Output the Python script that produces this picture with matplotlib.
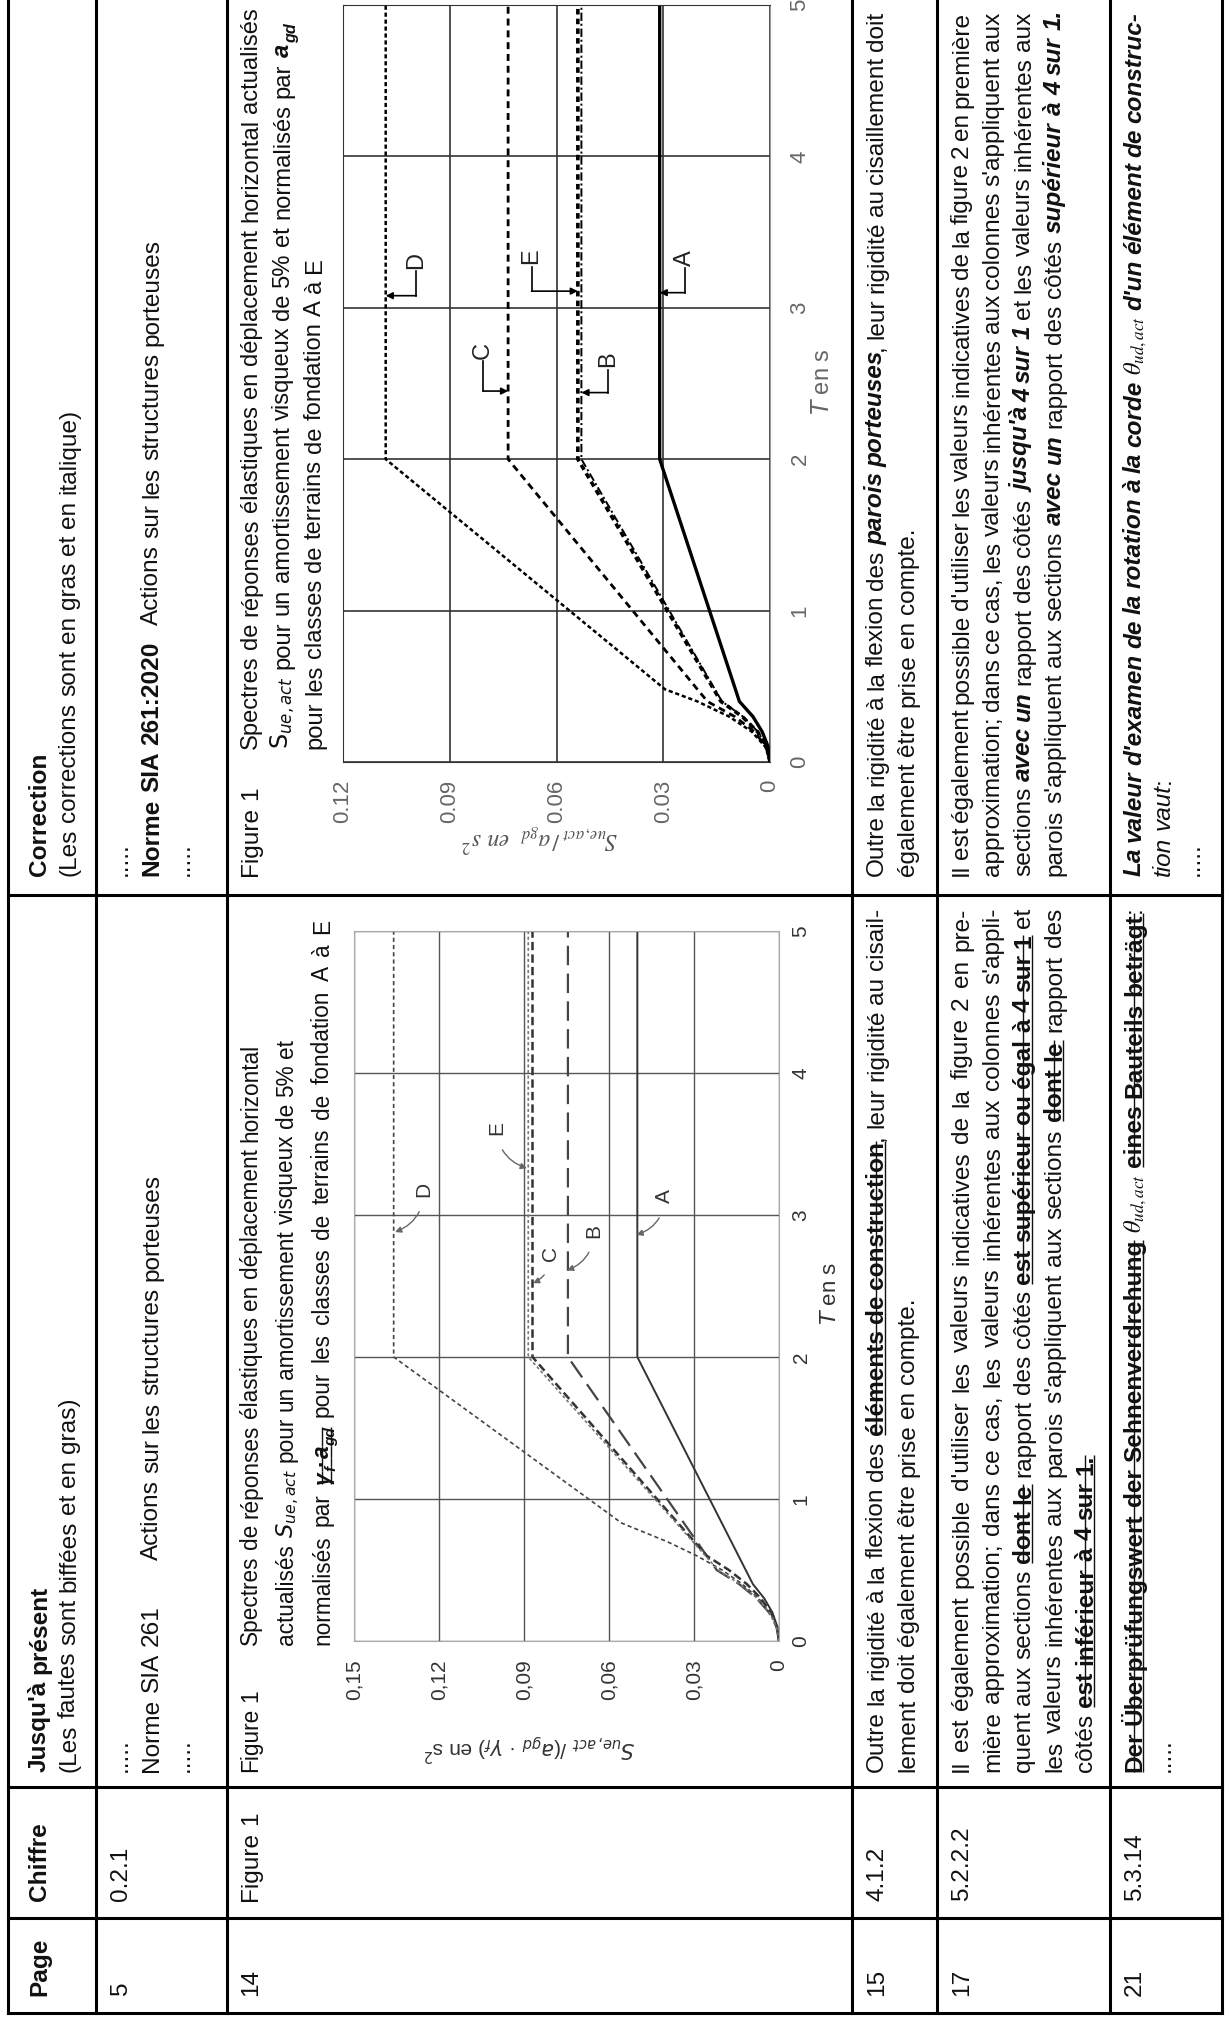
#!/usr/bin/env python3
"""Correction table SIA 261 (page turned on its side) with the two displacement spectra."""

import re

import matplotlib
matplotlib.use("Agg")
import matplotlib.pyplot as plt
from matplotlib.font_manager import FontProperties

W, H, DPI = 1230, 2022, 100
ARIAL = ["Liberation Sans", "DejaVu Sans"]
INK = "#111111"
plt.rcParams["lines.scale_dashes"] = False
plt.rcParams["mathtext.fontset"] = "dejavusans"

# ---- spectra: T in s, S in s^2 ----
T_TICKS = [0, 1, 2, 3, 4, 5]

OLD_S_TICKS = [0.15, 0.12, 0.09, 0.06, 0.03, 0]
OLD_S_LABELS = ["0,15", "0,12", "0,09", "0,06", "0,03", "0"]
OLD_A_T = [0, 0.1, 0.2, 0.3, 0.4, 2.0, 5.0]
OLD_A_S = [0, 0.0006, 0.0023, 0.0052, 0.0092, 0.050, 0.050]
OLD_B_T = [0, 0.1, 0.2, 0.3, 0.4, 0.5, 2.0, 5.0]
OLD_B_S = [0, 0.0009, 0.0035, 0.0079, 0.0140, 0.0220, 0.0745, 0.0745]
OLD_C_T = [0, 0.1, 0.2, 0.3, 0.4, 0.5, 0.6, 2.0, 5.0]
OLD_C_S = [0, 0.0007, 0.0028, 0.0064, 0.0113, 0.0177, 0.0255, 0.0870, 0.0870]
OLD_D_T = [0, 0.1, 0.2, 0.3, 0.4, 0.5, 0.6, 0.7, 0.83, 2.0, 5.0]
OLD_D_S = [0, 0.0008, 0.0032, 0.0072, 0.0129, 0.0201, 0.0290, 0.0395, 0.0555, 0.136, 0.136]
OLD_E_T = [0, 0.1, 0.2, 0.3, 0.4, 0.5, 2.0, 5.0]
OLD_E_S = [0, 0.0009, 0.0034, 0.0077, 0.0138, 0.0215, 0.0885, 0.0885]

OLD_NAMES = ["A", "B", "C", "D", "E"]
OLD_TEXT_AT = [(0.0403, 3.13), (0.0655, 2.89), (0.0808, 2.73), (0.1254, 3.18), (0.0996, 3.61)]
OLD_TIP_AT = [(0.0503, 2.86), (0.0748, 2.61), (0.0868, 2.52), (0.1355, 2.88), (0.0890, 3.33)]
OLD_BEND = [-0.35, -0.35, -0.35, -0.35, 0.35]

NEW_S_TICKS = [0.12, 0.09, 0.06, 0.03, 0]
NEW_S_LABELS = ["0.12", "0.09", "0.06", "0.03", "0"]
NEW_A_T = [0, 0.1, 0.2, 0.3, 0.4, 2.0, 5.0]
NEW_A_S = [0, 0.0005, 0.0022, 0.0048, 0.0086, 0.031, 0.031]
NEW_B_T = [0, 0.1, 0.2, 0.3, 0.4, 2.0, 5.0]
NEW_B_S = [0, 0.0008, 0.0034, 0.0076, 0.0135, 0.053, 0.053]
NEW_C_T = [0, 0.1, 0.2, 0.3, 0.4, 2.0, 5.0]
NEW_C_S = [0, 0.0011, 0.0044, 0.0099, 0.0176, 0.0736, 0.0736]
NEW_D_T = [0, 0.1, 0.2, 0.3, 0.4, 0.48, 2.0, 5.0]
NEW_D_S = [0, 0.0013, 0.0051, 0.0115, 0.0204, 0.0295, 0.108, 0.108]
NEW_E_T = [0, 0.1, 0.2, 0.3, 0.4, 2.0, 5.0]
NEW_E_S = [0, 0.0009, 0.0035, 0.0078, 0.0138, 0.054, 0.054]

NEW_NAMES = ["A", "B", "C", "D", "E"]
NEW_TEXT_AT = [(0.0239, 3.33), (0.0455, 2.66), (0.0806, 2.72), (0.0994, 3.31), (0.0670, 3.34)]
NEW_ELBOW_T = [3.10, 2.44, 2.45, 3.08, 3.11]
NEW_TIP_S = [0.031, 0.053, 0.0736, 0.108, 0.054]

# ---- table geometry in image pixels (x = across the rows, y = along them) ----
ROW_LINES = [8, 96, 227, 852, 937, 1110, 1222]
COL_LINES = [2013, 1918, 1787, 895]
PAGE_X, CHIFFRE_X, OLD_X, NEW_X = 1996, 1901, 1772, 876
OLD_WIDTH, NEW_WIDTH = 864, 864
CAP_OLD_X, CAP_NEW_X = 1645, 749

fig = plt.figure(figsize=(W / DPI, H / DPI), dpi=DPI)
base = fig.add_axes([0, 0, 1, 1])
base.set_xlim(0, W)
base.set_ylim(H, 0)
base.axis("off")
renderer = fig.canvas.get_renderer()


def advance(text, fp, math=False):
    if math:
        return renderer.get_text_width_height_descent(text, fp, ismath=True)[0]
    bar = renderer.get_text_width_height_descent("|", fp, ismath=False)[0]
    return renderer.get_text_width_height_descent(text + "|", fp, ismath=False)[0] - bar


def fit(text, target, family=ARIAL, weight="normal"):
    fp = FontProperties(family=family, size=10, weight=weight)
    return 10 * target / advance(text, fp)


def B(s): return (s, {"weight": "bold"})
def I(s): return (s, {"style": "italic"})
def BI(s): return (s, {"weight": "bold", "style": "italic"})
def X(s, **kw): return (s, dict({"weight": "bold", "strike": True}, **kw))
def M(s, fam="stix"): return (s, {"math": fam})


def draw_line(x, y, segs, size, width=None, family=ARIAL, color=INK):
    """One text line reading bottom-to-top; x is the baseline, y where it starts."""
    items = []
    for seg in segs:
        text, opts = (seg, {}) if isinstance(seg, str) else seg
        fp = FontProperties(family=family, size=size * (0.68 if opts.get("sub") else 1.0),
                            weight=opts.get("weight", "normal"), style=opts.get("style", "normal"))
        if "math" in opts:
            fp.set_math_fontfamily(opts["math"])
            toks = [text]
        else:
            toks = [t for t in re.split(r"( )", text) if t]
        items.append((toks, opts, fp))
    natural, spaces = 0.0, 0
    for toks, opts, fp in items:
        for t in toks:
            natural += advance(t, fp, "math" in opts)
            spaces += t == " "
    extra = (width - natural) / spaces if width and spaces else 0.0
    px = size * DPI / 72
    for toks, opts, fp in items:
        start = end = y
        dx = 0.28 * px if opts.get("sub") else 0
        for t in toks:
            a = advance(t, fp, "math" in opts)
            if t == " ":
                y -= a + extra
                continue
            base.text(x + dx, y, t, fontproperties=fp, rotation=90, rotation_mode="anchor",
                      ha="left", va="baseline", color=color)
            y -= a
            end = y
        if opts.get("strike"):
            for off in (-0.30 * px, 0.09 * px):
                base.plot([x + off, x + off], [start, end], color=color, lw=1.0, solid_capstyle="butt")
    return y


def img_axes(x0, x1, y0, y1):
    ax = fig.add_axes([x0 / W, 1 - y1 / H, (x1 - x0) / W, (y1 - y0) / H])
    ax.patch.set_alpha(0)
    return ax


body = fit("Il est également possible d'utiliser les valeurs indicatives de la figure 2 en pre-", 845)
cap_old = fit("normalisés par γf·agd pour les classes de terrains de fondation A à E", 690)
cap_new = fit("Spectres de réponses élastiques en déplacement horizontal actualisés", 743)

# ---- table rules ----
for x in ROW_LINES:
    base.plot([x, x], [0, COL_LINES[0]], color="black", lw=2.2, solid_capstyle="projecting")
for y in COL_LINES:
    base.plot([ROW_LINES[0], ROW_LINES[-1]], [y, y], color="black", lw=2.2, solid_capstyle="projecting")

# ---- header ----
draw_line(46, PAGE_X, [B("Page")], body)
draw_line(46, CHIFFRE_X, [B("Chiffre")], body)
draw_line(46, OLD_X, [B("Jusqu'à présent")], body)
draw_line(75, OLD_X, ["(Les fautes sont biffées et en gras)"], body)
draw_line(46, NEW_X, [B("Correction")], body)
draw_line(75, NEW_X, ["(Les corrections sont en gras et en italique)"], body)

# ---- page 5 ----
draw_line(127, PAGE_X, ["5"], body)
draw_line(127, CHIFFRE_X, ["0.2.1"], body)
for x in (127, 189):
    draw_line(x, OLD_X, ["....."], body)
    draw_line(x, NEW_X, ["....."], body)
draw_line(158, OLD_X, ["Norme SIA 261"], body)
draw_line(158, 1560, ["Actions sur les structures porteuses"], body)
draw_line(158, NEW_X, [B("Norme SIA 261:2020")], body)
draw_line(158, 625, ["Actions sur les structures porteuses"], body)

# ---- page 14, figure 1 ----
draw_line(257, PAGE_X, ["14"], body)
draw_line(257, CHIFFRE_X, ["Figure 1"], body)
draw_line(257, OLD_X, ["Figure 1"], cap_old)
draw_line(257, CAP_OLD_X, ["Spectres de réponses élastiques en déplacement horizontal"], cap_old)
draw_line(293, CAP_OLD_X, ["actualisés ", M(r"$S_{ue,act}$", "dejavusans"),
                           " pour un amortissement visqueux de 5% et"], cap_old)
draw_line(329, CAP_OLD_X, ["normalisés par ", X("γ", style="italic"),
                           X("f", style="italic", sub=True), X("·"), X("a", style="italic"),
                           X("gd", style="italic", sub=True),
                           " pour les classes de terrains de fondation A à E"], cap_old, 726)
draw_line(257, NEW_X, ["Figure 1"], body)
draw_line(257, CAP_NEW_X, ["Spectres de réponses élastiques en déplacement horizontal actualisés"],
          cap_new)
draw_line(289, CAP_NEW_X, [M(r"$\mathrm{S}_{ue,act}$", "dejavusans"),
                           " pour un amortissement visqueux de 5% et normalisés par ", BI("a"),
                           ("gd", {"weight": "bold", "style": "italic", "sub": True})], cap_new)
draw_line(321, CAP_NEW_X, ["pour les classes de terrains de fondation A à E"], cap_new)

# old spectrum (scanned, grey)
old = img_axes(354, 779, 931, 1641)
old.plot(OLD_A_S, OLD_A_T, color="#333333", lw=1.4)
old.plot(OLD_B_S, OLD_B_T, color="#444444", lw=1.6, dashes=(14, 6))
old.plot(OLD_C_S, OLD_C_T, color="#333333", lw=1.8, dashes=(6, 3))
old.plot(OLD_D_S, OLD_D_T, color="#444444", lw=1.2, dashes=(3, 2.2))
old.plot(OLD_E_S, OLD_E_T, color="#777777", lw=1.2, dashes=(2.2, 1.8))
for name, txt, tip, bend in zip(OLD_NAMES, OLD_TEXT_AT, OLD_TIP_AT, OLD_BEND):
    old.annotate(name, xy=tip, xytext=txt, rotation=90, ha="center", va="center",
                 fontsize=15, family=ARIAL, color="#333333",
                 arrowprops=dict(arrowstyle="-|>", connectionstyle=f"arc3,rad={bend}",
                                 color="#666666", lw=1.0, shrinkA=9, shrinkB=0, mutation_scale=9))
old.set_xlim(0.15, 0)
old.set_ylim(0, 5)
old.set_xticks(OLD_S_TICKS)
old.set_xticklabels(OLD_S_LABELS, rotation=90, fontsize=15, family=ARIAL, color="#333333")
old.set_yticks(T_TICKS)
old.yaxis.tick_right()
old.set_yticklabels([str(t) for t in T_TICKS], rotation=90, va="center",
                    fontsize=15, family=ARIAL, color="#333333")
old.tick_params(axis="x", length=0, pad=13)
old.tick_params(axis="y", length=0, pad=9)
old.grid(color="#555555", lw=1.0)
for spine in old.spines.values():
    spine.set_color("#aaaaaa")
base.text(529, 1748, r"$S_{ue,act}$ /($a_{gd}$ · $\gamma_f$) en s$^2$", rotation=180,
          ha="center", va="center", fontsize=15, family=ARIAL, color="#333333")
base.text(831, 1293, r"$T$ en s", rotation=90, ha="center", va="center",
          fontsize=16, family=ARIAL, color="#333333")

# corrected spectrum
new = img_axes(343, 770, 5, 762)
new.plot(NEW_A_S, NEW_A_T, color="black", lw=2.4)
new.plot(NEW_E_S, NEW_E_T, color="black", lw=2.6, dashes=(4, 3))
new.plot(NEW_B_S, NEW_B_T, color="black", lw=1.4, dashes=(6, 2, 1.5, 2))
new.plot(NEW_C_S, NEW_C_T, color="black", lw=2.0, dashes=(5, 3.5))
new.plot(NEW_D_S, NEW_D_T, color="black", lw=1.8, dashes=(3, 2))
for name, (s, t), te, tip in zip(NEW_NAMES, NEW_TEXT_AT, NEW_ELBOW_T, NEW_TIP_S):
    new.text(s, t, name, rotation=90, ha="center", va="center", fontsize=17,
             family=ARIAL, color="#222222")
    new.plot([s, s], [t - 0.07, te], color="black", lw=1.2)
    new.annotate("", xy=(tip, te), xytext=(s, te),
                 arrowprops=dict(arrowstyle="-|>", color="black", lw=1.2,
                                 shrinkA=0, shrinkB=0, mutation_scale=10))
new.set_xlim(0.12, 0)
new.set_ylim(0, 5)
new.set_xticks(NEW_S_TICKS)
new.set_xticklabels(NEW_S_LABELS, rotation=90, fontsize=16, family=ARIAL, color="#666666")
new.set_yticks(T_TICKS)
new.yaxis.tick_right()
new.set_yticklabels([str(t) for t in T_TICKS], rotation=90, va="center",
                    fontsize=16, family=ARIAL, color="#666666")
new.tick_params(axis="x", length=0, pad=13)
new.tick_params(axis="y", length=0, pad=14)
new.grid(color="#333333", lw=1.2)
for side, spine in new.spines.items():
    spine.set_color("#999999" if side == "right" else "#333333")
base.text(540, 838, r"$S_{ue,act}\,/\,a_{gd}\ \ en\ s^2$", rotation=180, ha="center",
          va="center", fontsize=17, math_fontfamily="stix", color="#555555")
base.text(823, 382, r"$T$ en s", rotation=90, ha="center", va="center",
          fontsize=17, family=ARIAL, color="#666666")

# ---- page 15 ----
draw_line(883, PAGE_X, ["15"], body)
draw_line(883, CHIFFRE_X, ["4.1.2"], body)
draw_line(883, OLD_X, ["Outre la rigidité à la flexion des ", X("éléments de construction"),
                       ", leur rigidité au cisail-"], body, OLD_WIDTH)
draw_line(914, OLD_X, ["lement doit également être prise en compte."], body)
draw_line(883, NEW_X, ["Outre la rigidité à la flexion des ", BI("parois porteuses"),
                       ", leur rigidité au cisaillement doit"], body, NEW_WIDTH)
draw_line(914, NEW_X, ["également être prise en compte."], body)

# ---- page 17 ----
draw_line(968, PAGE_X, ["17"], body)
draw_line(968, CHIFFRE_X, ["5.2.2.2"], body)
old_17 = [
    ["Il est également possible d'utiliser les valeurs indicatives de la figure 2 en pre-"],
    ["mière approximation; dans ce cas, les valeurs inhérentes aux colonnes s'appli-"],
    ["quent aux sections ", X("dont le"), " rapport des côtés ",
     X("est supérieur ou égal à 4 sur 1"), " et"],
    ["les valeurs inhérentes aux parois s'appliquent aux sections ", X("dont le"), " rapport des"],
    ["côtés ", X("est inférieur à 4 sur 1.")],
]
new_17 = [
    ["Il est également possible d'utiliser les valeurs indicatives de la figure 2 en première"],
    ["approximation; dans ce cas, les valeurs inhérentes aux colonnes s'appliquent aux"],
    ["sections ", BI("avec un"), " rapport des côtés ", BI("jusqu'à 4 sur 1"),
     " et les valeurs inhérentes aux"],
    ["parois s'appliquent aux sections ", BI("avec un"), " rapport des côtés ",
     BI("supérieur à 4 sur 1.")],
]
for i, segs in enumerate(old_17):
    draw_line(968 + 31 * i, OLD_X, segs, body, OLD_WIDTH if i < len(old_17) - 1 else None)
for i, segs in enumerate(new_17):
    draw_line(968 + 31 * i, NEW_X, segs, body, NEW_WIDTH if i < len(new_17) - 1 else None)

# ---- page 21 ----
draw_line(1141, PAGE_X, ["21"], body)
draw_line(1141, CHIFFRE_X, ["5.3.14"], body)
draw_line(1141, OLD_X, [X("Der Überprüfungswert der Sehnenverdrehung"), " ",
                        M(r"$\theta_{ud,act}$"), " ", X("eines Bauteils beträgt"), ":"], body)
draw_line(1170, OLD_X, ["....."], body)
draw_line(1141, NEW_X, [BI("La valeur d'examen de la rotation à la corde"), " ",
                        M(r"$\theta_{ud,act}$"), " ", BI("d'un élément de construc-")], body, NEW_WIDTH)
draw_line(1170, NEW_X, [I("tion vaut"), ":"], body)
draw_line(1199, NEW_X, ["....."], body)

fig.savefig("out.png", dpi=DPI)
